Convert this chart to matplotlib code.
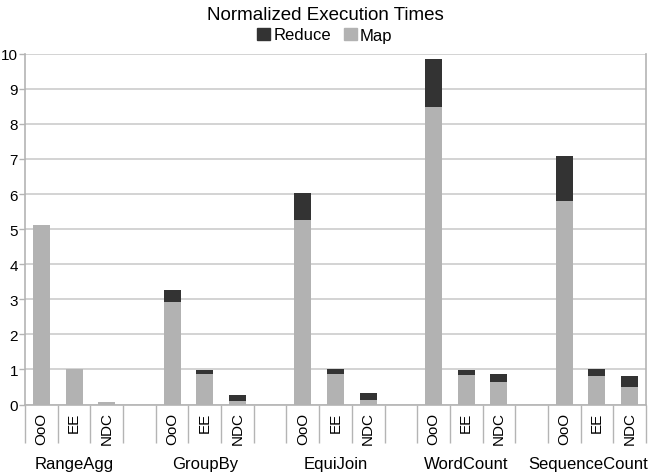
import numpy as np
import matplotlib
matplotlib.use("Agg")
import matplotlib.pyplot as plt
from matplotlib.patches import Patch
from matplotlib.transforms import blended_transform_factory

plt.rcParams["font.family"] = ["Liberation Sans", "DejaVu Sans"]

# -----------------------------
# Data
# -----------------------------
workloads = ["RangeAgg", "GroupBy", "EquiJoin", "WordCount", "SequenceCount"]
configs = ["OoO", "EE", "NDC"]

map_times = [
    [5.11, 1.01, 0.08],
    [2.92, 0.88, 0.10],
    [5.27, 0.87, 0.14],
    [8.48, 0.84, 0.65],
    [5.80, 0.82, 0.50],
]
reduce_times = [
    [0.00, 0.00, 0.00],
    [0.34, 0.11, 0.18],
    [0.76, 0.14, 0.19],
    [1.36, 0.14, 0.22],
    [1.28, 0.19, 0.31],
]

MAP_COLOR = "#b2b2b2"
REDUCE_COLOR = "#333333"
LINE_COLOR = "#b4b4b4"
BAR_WIDTH = 0.52


def main():
    fig = plt.figure(figsize=(6.5, 4.77), dpi=100)
    ax = fig.add_axes([25 / 650, 71.5 / 477, 621 / 650, 350.8 / 477])

    n_slots = len(workloads) * (len(configs) + 1) - 1
    positions = []
    labels = []
    for g in range(len(workloads)):
        for c in range(len(configs)):
            positions.append(g * (len(configs) + 1) + c + 0.5)
            labels.append(configs[c])

    map_flat = np.array(map_times).ravel()
    reduce_flat = np.array(reduce_times).ravel()

    ax.bar(positions, map_flat, width=BAR_WIDTH, color=MAP_COLOR, zorder=3)
    ax.bar(positions, reduce_flat, width=BAR_WIDTH, bottom=map_flat,
           color=REDUCE_COLOR, zorder=3)

    ax.set_xlim(0, n_slots)
    ax.set_ylim(0, 10)
    ax.set_yticks(range(0, 11))
    ax.yaxis.grid(True, color="#cccccc", linewidth=1.2, zorder=0)

    ax.set_xticks(positions)
    ax.set_xticklabels(labels, rotation=90, fontsize=11, va="top")
    ax.set_xticks(np.arange(0, n_slots + 1), minor=True)
    ax.tick_params(axis="x", which="major", length=0, pad=5)
    ax.tick_params(axis="x", which="minor", length=27, width=1,
                   color=LINE_COLOR, direction="out")
    ax.tick_params(axis="y", length=4, width=1, color=LINE_COLOR,
                   labelsize=11, pad=1)

    for side in ["left", "right", "bottom", "top"]:
        ax.spines[side].set_color(LINE_COLOR)
        ax.spines[side].set_linewidth(1.2)
    ax.spines["top"].set_visible(False)

    # group names under the config labels; the last one is pulled in
    # so it stays inside the figure
    trans = blended_transform_factory(ax.transData, fig.transFigure)
    for g, name in enumerate(workloads):
        center = g * (len(configs) + 1) + len(configs) / 2
        if g == len(workloads) - 1:
            fig.text(648 / 650, 12 / 477, name, ha="right", va="center",
                     fontsize=12)
        else:
            ax.text(center, 12 / 477, name, transform=trans, ha="center",
                    va="center", fontsize=12)

    fig.text(0.5, 1 - 15 / 477, "Normalized Execution Times",
             ha="center", va="center", fontsize=13.5)
    handles = [Patch(color=REDUCE_COLOR, label="Reduce"),
               Patch(color=MAP_COLOR, label="Map")]
    fig.legend(handles=handles, loc="center", bbox_to_anchor=(0.5, 1 - 36 / 477),
               ncol=2, frameon=False, fontsize=12, handlelength=0.75,
               handleheight=0.75, handletextpad=0.2, columnspacing=0.8,
               borderaxespad=0)

    fig.savefig("out.png", dpi=100)
    plt.close(fig)


if __name__ == "__main__":
    main()
